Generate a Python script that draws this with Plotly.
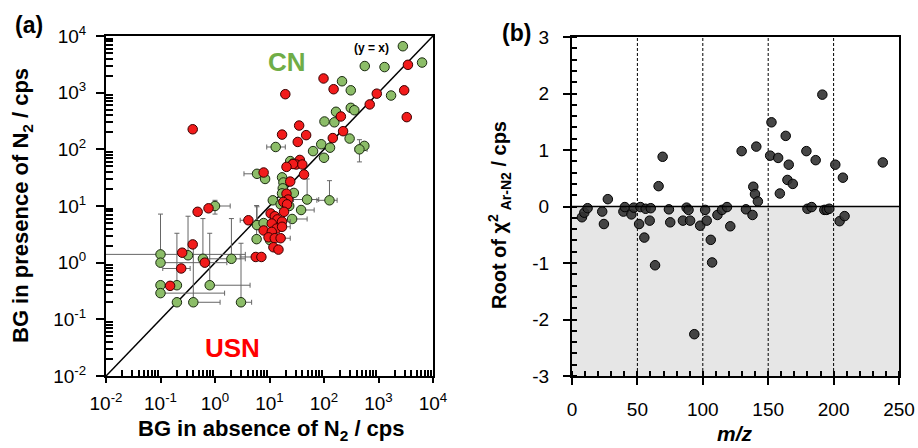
import plotly.graph_objects as go

# ---------------- Panel (a) data ----------------
# CN (green) points: x = BG without N2, y = BG with N2 (cps), with error bounds
cn_x = [2800, 560, 1290, 6300, 214, 310, 1700, 166, 310, 360, 155, 102, 295, 89, 129, 550, 447, 100, 63, 13,
        24, 27, 5.9, 8.3, 17, 18, 17.5, 17, 28, 49, 126, 11.5, 16, 23, 38, 26, 5.9, 7.8, 5.8, 10.2,
        1.0, 0.1, 0.1, 0.32, 0.6, 2.0, 0.1, 0.2, 0.8, 0.1, 0.2, 0.4, 3.0]
cn_y = [6600, 2950, 2830, 3400, 1590, 1100, 890, 460, 540, 490, 300, 310, 155, 123, 107, 115, 100, 71, 93, 110,
        62, 56, 37, 30, 32, 26, 20.5, 16.7, 17, 13, 12.6, 12.6, 10.7, 10, 8.5, 5.9, 4.6, 5.0, 2.6, 2.5,
        10, 1.4, 1.0, 1.35, 1.17, 1.17, 0.4, 0.4, 0.4, 0.29, 0.2, 0.2, 0.2]
cn_x_lo = [2800, 560, 1290, 6300, 214, 310, 1700, 166, 310, 360, 155, 102, 295, 89, 129, 550, 372, 100, 63, 8.9,
           24, 27, 3.4, 8.3, 17, 18, 17.5, 17, 28, 27.6, 74, 11.5, 16, 23, 38, 26, 5.9, 7.8, 5.8, 10.2,
           1.0, 0.005, 0.1, 0.32, 0.6, 0.6, 0.1, 0.2, 0.8, 0.1, 0.2, 0.4, 3.0]
cn_x_hi = [2800, 560, 1290, 6300, 214, 310, 1700, 166, 310, 360, 155, 102, 295, 89, 129, 550, 617, 100, 63, 19.5,
           24, 27, 5.9, 8.3, 17, 18, 17.5, 17, 28, 80, 174, 11.5, 16, 23, 66, 49, 5.9, 7.8, 5.8, 10.2,
           1.9, 3.6, 1.65, 0.32, 0.6, 3.6, 0.1, 0.2, 4.4, 1.5, 0.2, 1.24, 4.7]
cn_y_lo = [6600, 2950, 2830, 3400, 1590, 1100, 890, 460, 540, 490, 300, 310, 155, 123, 107, 115, 60, 71, 93, 110,
           62, 56, 37, 30, 32, 26, 20.5, 16.7, 17, 13, 12.6, 12.6, 10.7, 10, 8.5, 5.9, 4.6, 5.0, 2.6, 2.5,
           7.2, 1.4, 1.0, 1.35, 1.17, 1.17, 0.4, 0.4, 0.4, 0.29, 0.2, 0.2, 0.2]
cn_y_hi = [6600, 2950, 2830, 3400, 1590, 1100, 890, 460, 540, 490, 300, 310, 155, 123, 107, 115, 148, 71, 93, 110,
           62, 56, 37, 30, 32, 26, 20.5, 16.7, 17, 30, 28, 12.6, 10.7, 10, 8.5, 5.9, 9.7, 5.0, 10.2, 2.5,
           12.6, 7.2, 1.0, 6.6, 6.0, 6.0, 0.4, 3.3, 3.3, 0.29, 0.2, 2.0, 2.2]

# USN (red) points
usn_x = [0.39, 3470, 2960, 930, 690, 3300, 204, 224, 145, 98, 150, 19.5, 35, 17, 47, 33, 36, 31, 40, 27, 20.5,
         43, 24, 7.8, 20.5, 22, 18, 21, 18.5, 10.5, 12.5, 14, 17, 11, 13.5, 17, 7.8, 11, 9.6, 12.5, 16,
         11.8, 14.6, 4.1, 0.48, 0.76, 0.39, 0.25, 0.65, 0.24, 0.15, 5.6, 7.1]
usn_y = [226, 3100, 1100, 960, 620, 370, 380, 209, 158, 1780, 1150, 940, 263, 182, 178, 135, 65, 54, 54, 55, 49,
         36, 27, 39, 16.5, 13, 11.8, 10.7, 7.9, 7.4, 6.6, 5.8, 5.3, 4.9, 4.0, 4.3, 3.7, 3.5, 2.8, 2.7, 2.7,
         1.87, 1.7, 5.6, 7.9, 9.1, 2.1, 1.5, 1.0, 0.79, 0.39, 1.26, 1.26]
usn_x_lo = [0.39, 3470, 2960, 930, 690, 3300, 204, 224, 145, 98, 150, 19.5, 35, 17, 47, 33, 36, 31, 40, 27, 20.5,
            43, 24, 7.8, 20.5, 22, 18, 21, 18.5, 10.5, 12.5, 14, 17, 11, 13.5, 17, 7.8, 11, 9.6, 12.5, 16,
            11.8, 14.6, 2.9, 0.48, 0.76, 0.39, 0.25, 0.65, 0.11, 0.15, 2.9, 7.1]
usn_x_hi = [0.39, 3470, 2960, 930, 690, 3300, 204, 224, 145, 98, 150, 19.5, 35, 17, 47, 33, 36, 31, 40, 27, 20.5,
            43, 24, 7.8, 20.5, 22, 18, 21, 18.5, 10.5, 12.5, 14, 24, 11, 13.5, 24, 7.8, 11, 9.6, 12.5, 24,
            11.8, 14.6, 4.1, 0.48, 0.76, 0.39, 0.25, 0.65, 0.35, 0.15, 5.6, 7.1]

# ---------------- Panel (b) data ----------------
mz = [7.6, 9.4, 11.9, 23.1, 24.4, 27.4, 39.3, 40.4, 45.4, 47.2, 51.3, 52.3, 55.3, 56.3, 59.4, 60.2, 63.5, 66.2,
      69.3, 74.1, 75.1, 84.8, 87.6, 89.1, 90.3, 93.5, 98.0, 101.8, 103.0, 106.1, 107.1, 111.2, 114.7, 118.5,
      121.0, 129.7, 133.0, 138.0, 138.6, 139.9, 140.9, 142.1, 151.5, 152.5, 157.6, 158.9, 163.4, 164.7, 165.7,
      168.8, 179.2, 180.0, 183.2, 186.3, 191.4, 192.9, 194.7, 196.7, 201.3, 204.6, 207.1, 208.4, 237.6]
root_chi2 = [-0.19, -0.11, -0.03, -0.09, -0.31, 0.13, -0.09, -0.01, -0.14, -0.02, -0.31, -0.01, -0.55, -0.04,
             -0.25, -0.03, -1.04, 0.36, 0.88, -0.05, -0.28, -0.25, -0.02, -0.06, -0.25, -2.26, -0.34, -0.06,
             -0.25, -0.59, -0.99, -0.15, -0.06, -0.01, -0.35, 0.98, -0.05, -0.15, 0.35, 0.22, 1.06, 0.09,
             0.90, 1.49, 0.86, 0.23, 1.25, 0.47, 0.74, 0.40, 0.98, -0.04, -0.01, 0.82, 1.98, -0.06, -0.06,
             -0.04, 0.74, -0.26, 0.51, -0.17, 0.78]

decades = [0.01, 0.1, 1, 10, 100, 1000, 10000]
decade_labels = ["10<sup>-2</sup>", "10<sup>-1</sup>", "10<sup>0</sup>", "10<sup>1</sup>",
                 "10<sup>2</sup>", "10<sup>3</sup>", "10<sup>4</sup>"]
minor_vals = [m * d for d in decades[:-1] for m in range(2, 10)]
mz_ticks = [0, 50, 100, 150, 200, 250]
chi_ticks = [-3, -2, -1, 0, 1, 2, 3]
chi_labels = ["-3", "-2", "-1", "0", "1", "2", "3"]

FONT = "Liberation Sans, Arial, sans-serif"
GREEN_FILL = "#8cbd68"
RED_FILL = "#f21b1b"
W, H = 918, 448


def minus(v, lo):
    return [a - b for a, b in zip(v, lo)]


fig = go.Figure()

# y = x line
fig.add_trace(go.Scatter(x=[decades[0], decades[-1]], y=[decades[0], decades[-1]], mode="lines",
                         line=dict(color="black", width=1.5), xaxis="x", yaxis="y", showlegend=False,
                         hoverinfo="skip"))

fig.add_trace(go.Scatter(
    x=cn_x, y=cn_y, mode="markers", name="CN", xaxis="x", yaxis="y", showlegend=False,
    marker=dict(size=9.5, color=GREEN_FILL, line=dict(color="#1a2a10", width=1)),
    error_x=dict(type="data", symmetric=False, array=minus(cn_x_hi, cn_x), arrayminus=minus(cn_x, cn_x_lo),
                 color="#666666", thickness=1, width=2.5),
    error_y=dict(type="data", symmetric=False, array=minus(cn_y_hi, cn_y), arrayminus=minus(cn_y, cn_y_lo),
                 color="#666666", thickness=1, width=2.5),
))

fig.add_trace(go.Scatter(
    x=usn_x, y=usn_y, mode="markers", name="USN", xaxis="x", yaxis="y", showlegend=False,
    marker=dict(size=9.5, color=RED_FILL, line=dict(color="#3a0000", width=1)),
    error_x=dict(type="data", symmetric=False, array=minus(usn_x_hi, usn_x), arrayminus=minus(usn_x, usn_x_lo),
                 color="#666666", thickness=1, width=2.5),
))

# Panel (b)
fig.add_trace(go.Scatter(
    x=mz, y=root_chi2, mode="markers", xaxis="x2", yaxis="y2", showlegend=False,
    marker=dict(size=9.5, color="rgba(50,50,50,0.9)", line=dict(color="black", width=1)),
))

axis_common = dict(showline=True, linecolor="black", linewidth=2, mirror=True, showgrid=False, zeroline=False,
                   automargin=False,
                   tickfont=dict(family=FONT, size=19, color="black"), tickcolor="black", tickwidth=1.5)

fig.update_layout(
    width=W, height=H, margin=dict(l=0, r=0, t=0, b=0, autoexpand=False),
    paper_bgcolor="white", plot_bgcolor="white",
    font=dict(family=FONT, color="black"),
    xaxis=dict(domain=[106 / W, 433 / W], anchor="y", type="log", range=[-2, 4],
               tickmode="array", tickvals=decades, ticktext=decade_labels,
               ticks="outside", ticklen=5, ticklabelstandoff=4,
               minor=dict(tickmode="array", tickvals=minor_vals, ticks="inside", ticklen=6,
                          tickcolor="black", tickwidth=1.5, showgrid=False),
               **axis_common),
    yaxis=dict(domain=[72 / H, 412 / H], anchor="x", type="log", range=[-2, 4],
               tickmode="array", tickvals=decades, ticktext=decade_labels,
               ticks="outside", ticklen=8, ticklabelstandoff=6,
               minor=dict(tickmode="array", tickvals=minor_vals, ticks="inside", ticklen=7,
                          tickcolor="black", tickwidth=1.5, showgrid=False),
               **axis_common),
    xaxis2=dict(domain=[572 / W, 899 / W], anchor="y2", range=[0, 250],
                tickmode="array", tickvals=mz_ticks, ticks="outside", ticklen=7, ticklabelstandoff=8,
                minor=dict(dtick=10, tick0=0, ticks="inside", ticklen=5, tickcolor="black", tickwidth=1.5,
                           showgrid=False),
                **axis_common),
    yaxis2=dict(domain=[72 / H, 411 / H], anchor="x2", range=[-3, 3],
                tickmode="array", tickvals=chi_ticks, ticktext=chi_labels,
                ticks="outside", ticklen=7, ticklabelstandoff=10,
                minor=dict(dtick=0.2, tick0=0, ticks="inside", ticklen=5, tickcolor="black", tickwidth=1.5,
                           showgrid=False),
                **axis_common),
)

# Panel (b) shading and guide lines
fig.add_shape(type="rect", xref="x2", yref="y2", x0=0, x1=250, y0=-3, y1=0,
              fillcolor="#e6e6e6", line=dict(width=0), layer="below")
for v in [50, 100, 150, 200]:
    fig.add_shape(type="line", xref="x2", yref="y2", x0=v, x1=v, y0=-3, y1=3,
                  line=dict(color="black", width=1, dash="3px,2px"), layer="below")
fig.add_shape(type="line", xref="x2", yref="y2", x0=0, x1=250, y0=0, y1=0,
              line=dict(color="black", width=1.5))

ann = [
    dict(text="<b>(a)</b>", x=29, y=25, size=23, color="black"),
    dict(text="<b>(b)</b>", x=516, y=33, size=23, color="black"),
    dict(text="<b>BG in absence of N<sub>2</sub> / cps</b>", x=271, y=430, size=22, color="black"),
    dict(text="<b><i>m/z</i></b>", x=735, y=433, size=21, color="black"),
    dict(text="<b>(y = x)</b>", x=371, y=48, size=12, color="black"),
    dict(text="<b>CN</b>", x=287, y=62, size=26, color="#70ad47"),
    dict(text="<b>USN</b>", x=232, y=348, size=26, color="#ff0000"),
]
for a in ann:
    fig.add_annotation(text=a["text"], x=a["x"] / W, y=1 - a["y"] / H, xref="paper", yref="paper",
                       showarrow=False, xanchor="center", yanchor="middle",
                       font=dict(family=FONT, size=a["size"], color=a["color"]))

fig.add_annotation(text="<b>BG in presence of N<sub>2</sub> / cps</b>", x=22 / W, y=1 - 206 / H,
                   xref="paper", yref="paper", showarrow=False, textangle=-90,
                   xanchor="center", yanchor="middle", font=dict(family=FONT, size=22, color="black"))
fig.add_annotation(text="<b>Root of χ<sup>2</sup><sub> Ar-N2</sub> / cps</b>", x=499 / W, y=1 - 215 / H,
                   xref="paper", yref="paper", showarrow=False, textangle=-90,
                   xanchor="center", yanchor="middle", font=dict(family=FONT, size=20, color="black"))

fig.write_html("out.html")
